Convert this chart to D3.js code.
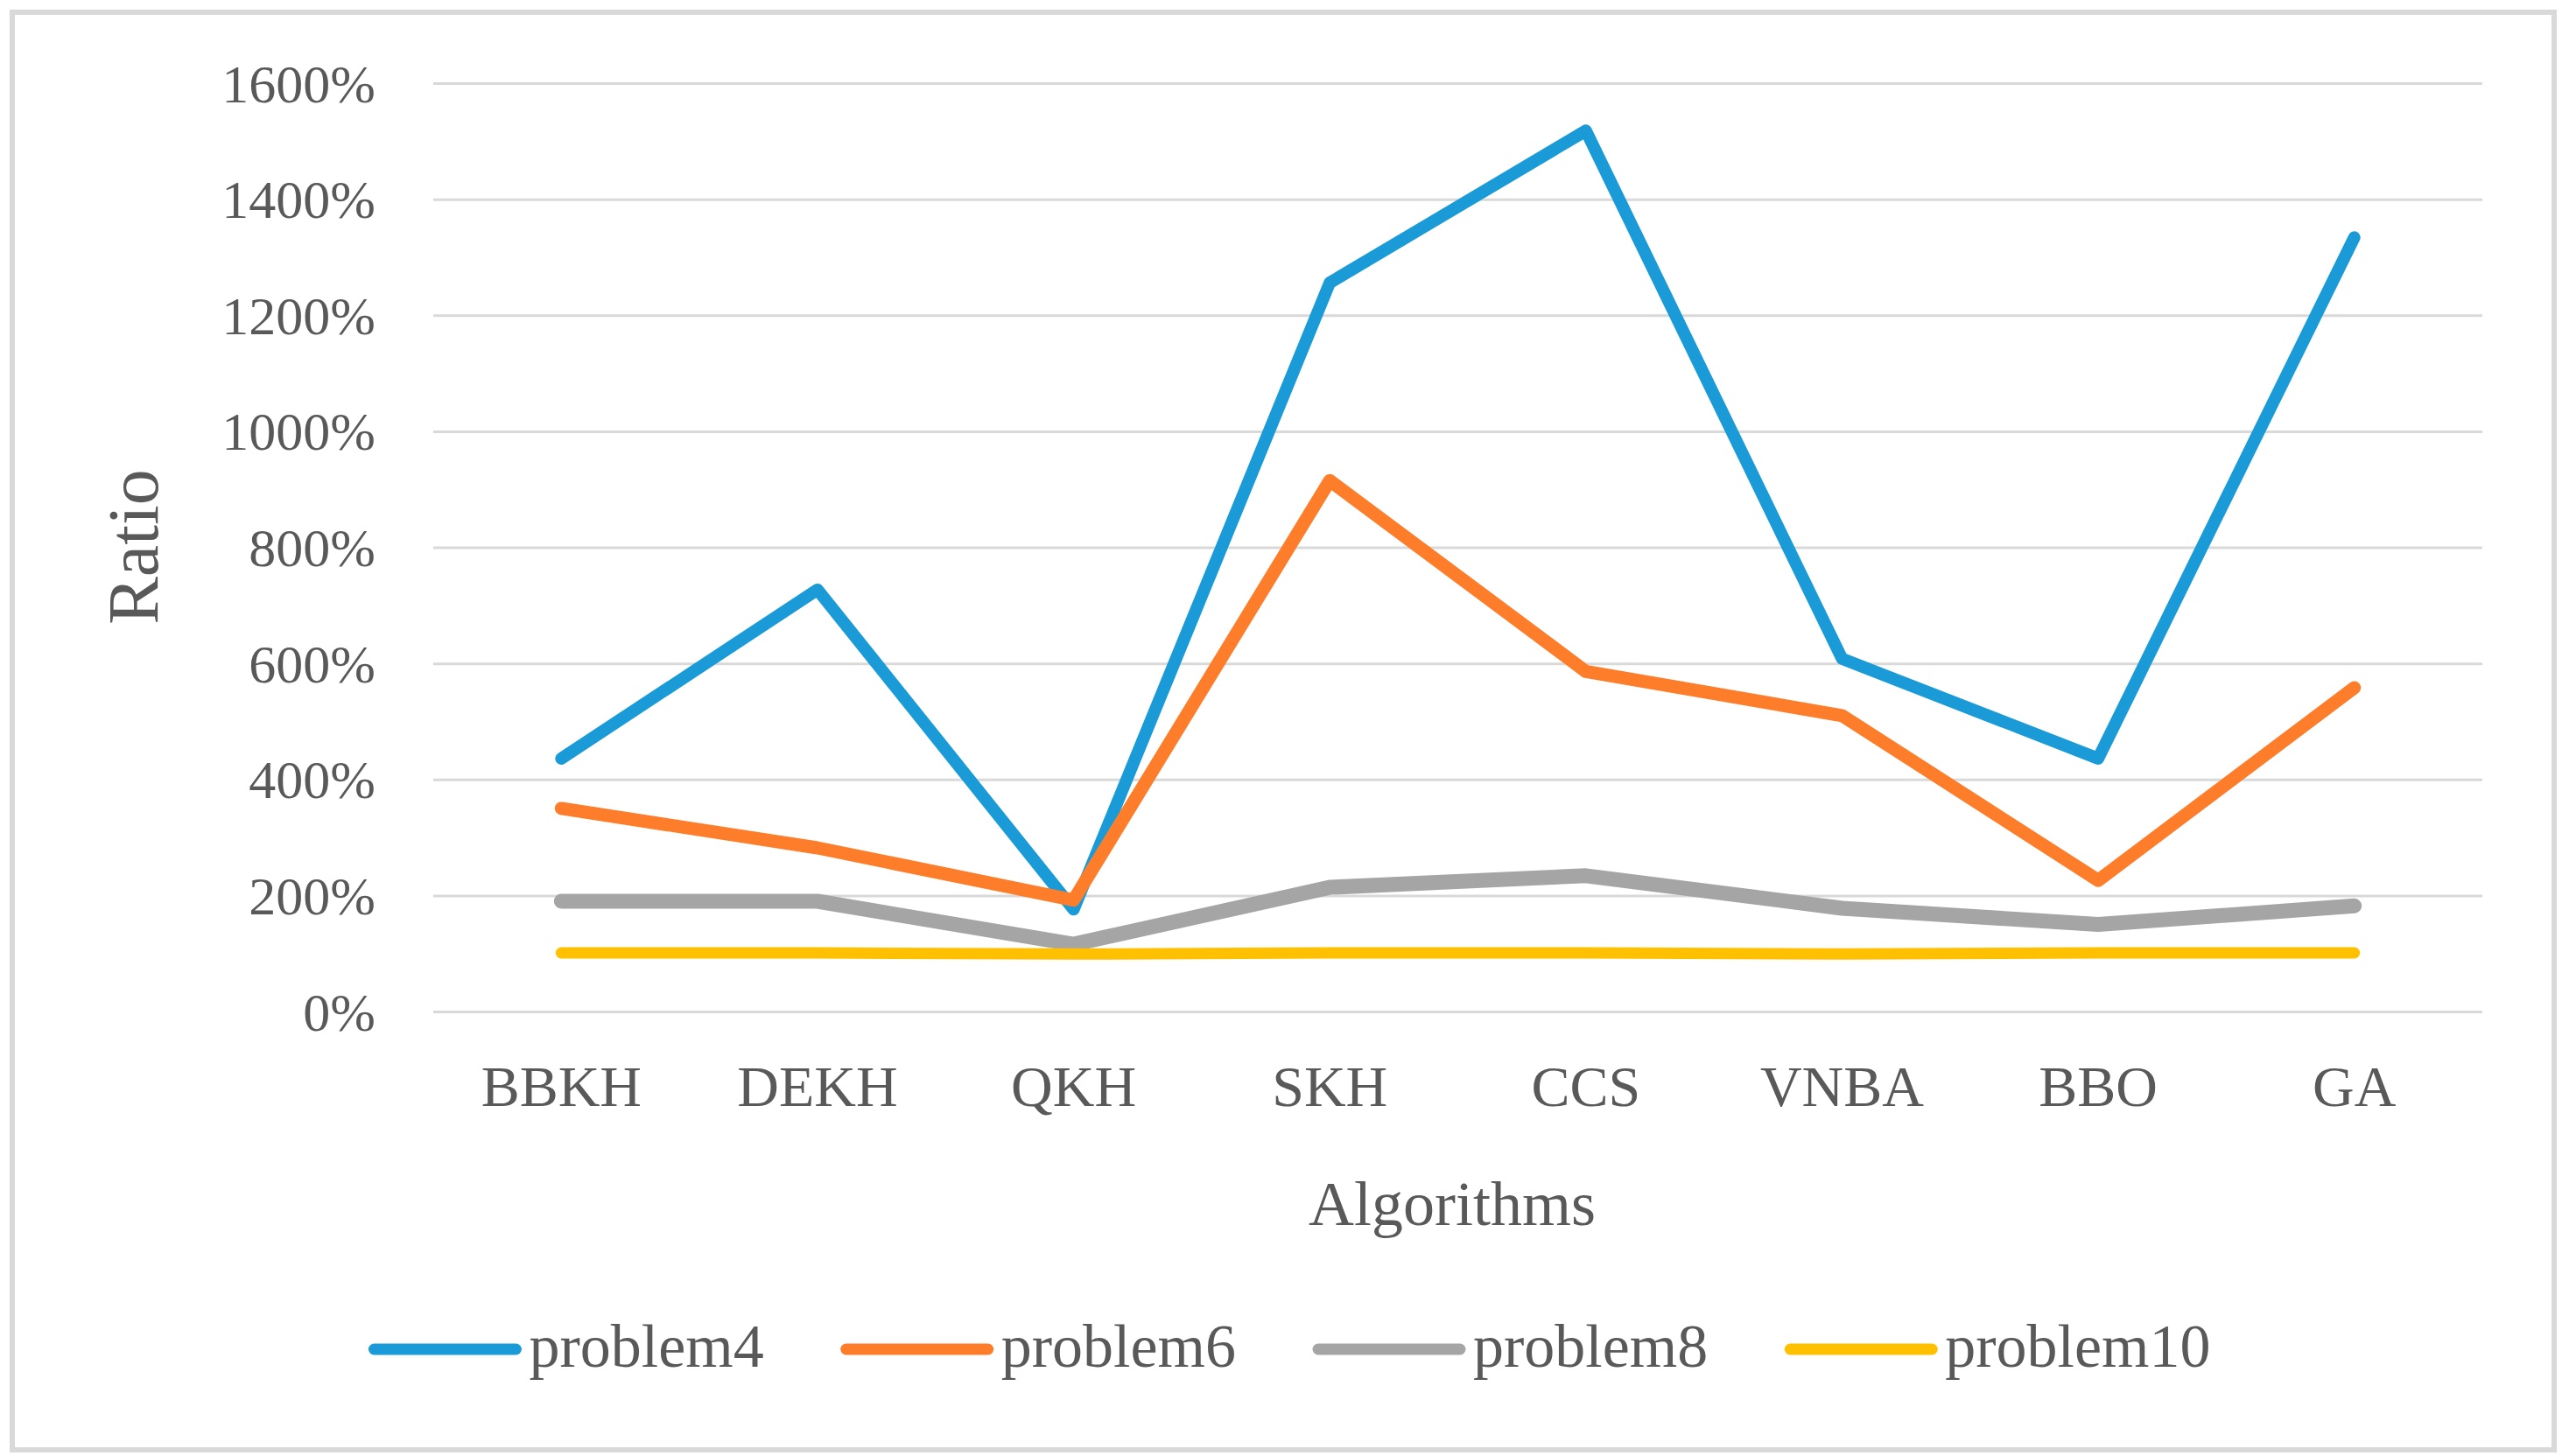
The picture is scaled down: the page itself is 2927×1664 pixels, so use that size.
<!DOCTYPE html>
<html>
<head>
<meta charset="utf-8">
<script src="https://cdn.jsdelivr.net/npm/d3@7"></script>
<style>
  body { margin: 0; background: #fff; }
  text { font-family: 'Liberation Serif', 'DejaVu Serif', serif; fill: #595959; }
</style>
</head>
<body>
<div id="chart"></div>
<script>
// Data (percent)
const categories = ['BBKH', 'DEKH', 'QKH', 'SKH', 'CCS', 'VNBA', 'BBO', 'GA'];
const problem4 = [436, 727, 176, 1256, 1518, 608, 436, 1334];
const problem6 = [350, 282, 192, 915, 586, 510, 226, 558];
const problem8 = [190, 190, 116, 214, 234, 178, 150, 182];
const problem10 = [101, 101, 99, 101, 101, 99, 101, 101];
const yTicks = [0, 200, 400, 600, 800, 1000, 1200, 1400, 1600];
const seriesNames = ['problem4', 'problem6', 'problem8', 'problem10'];

const series = [problem4, problem6, problem8, problem10].map((values, i) => ({
	name: seriesNames[i],
	values: values
}));

const width = 2927;
const height = 1664;
const colors = ['#1a9bd7', '#fd7d2b', '#a5a5a5', '#ffc000'];
const lineWidths = [14, 15, 17, 13];

const plot = { left: 495, right: 2836, top: 95, bottom: 1156 };

const svg = d3.select('#chart')
	.append('svg')
	.attr('width', width)
	.attr('height', height);

// outer frame
svg.append('rect')
	.attr('x', 14)
	.attr('y', 14)
	.attr('width', 2904)
	.attr('height', 1643)
	.attr('fill', '#fff')
	.attr('stroke', '#d9d9d9')
	.attr('stroke-width', 6);

const x = d3.scaleBand()
	.domain(categories)
	.range([plot.left, plot.right]);

const y = d3.scaleLinear()
	.domain([0, 1600])
	.range([plot.bottom, plot.top]);

// gridlines + y tick labels
const yAxis = svg.append('g')
	.attr('transform', `translate(${plot.left},0)`)
	.call(d3.axisLeft(y)
		.tickValues(yTicks)
		.tickSize(-(plot.right - plot.left))
		.tickFormat(d => d + '%'));

yAxis.select('.domain').remove();
yAxis.selectAll('.tick line')
	.attr('stroke', '#d9d9d9')
	.attr('stroke-width', 3);
yAxis.selectAll('.tick text')
	.attr('x', -66)
	.attr('dy', '0.34em')
	.style('font-size', '62px')
	.style('font-family', null)
	.attr('fill', '#595959');

// category labels
const xAxis = svg.append('g')
	.attr('transform', `translate(0,${plot.bottom})`)
	.call(d3.axisBottom(x).tickSize(0));

xAxis.select('.domain').remove();
xAxis.selectAll('.tick text')
	.attr('y', 108)
	.attr('dy', 0)
	.style('font-size', '66px')
	.attr('fill', '#595959');

// axis titles
svg.append('text')
	.attr('transform', 'translate(180,625) rotate(-90)')
	.attr('text-anchor', 'middle')
	.style('font-size', '82px')
	.text('Ratio');

svg.append('text')
	.attr('x', 1659)
	.attr('y', 1400)
	.attr('text-anchor', 'middle')
	.style('font-size', '72px')
	.text('Algorithms');

// the lines
const line = d3.line()
	.x((d, i) => x(categories[i]) + x.bandwidth() / 2)
	.y(d => y(d));

svg.append('g')
	.selectAll('path')
	.data(series)
	.join('path')
	.attr('d', d => line(d.values))
	.attr('fill', 'none')
	.attr('stroke', (d, i) => colors[i])
	.attr('stroke-width', (d, i) => lineWidths[i])
	.attr('stroke-linejoin', 'round')
	.attr('stroke-linecap', 'round');

// legend, laid out from measured text widths then centred in the frame
const legendY = 1542;
const lineLen = 162;
const legend = svg.append('g');
let cursor = 0;
series.forEach((s, i) => {
	const item = legend.append('g').attr('transform', `translate(${cursor},0)`);
	item.append('line')
		.attr('x1', 0)
		.attr('x2', lineLen)
		.attr('y1', legendY)
		.attr('y2', legendY)
		.attr('stroke', colors[i])
		.attr('stroke-width', 13)
		.attr('stroke-linecap', 'round');
	const label = item.append('text')
		.attr('x', lineLen + 15)
		.attr('y', legendY + 20)
		.style('font-size', '70px')
		.text(s.name);
	cursor += lineLen + 15 + label.node().getComputedTextLength() + 94;
});
const legendWidth = cursor - 94;
legend.attr('transform', `translate(${(420 + 2533) / 2 - legendWidth / 2},0)`);
</script>
</body>
</html>
